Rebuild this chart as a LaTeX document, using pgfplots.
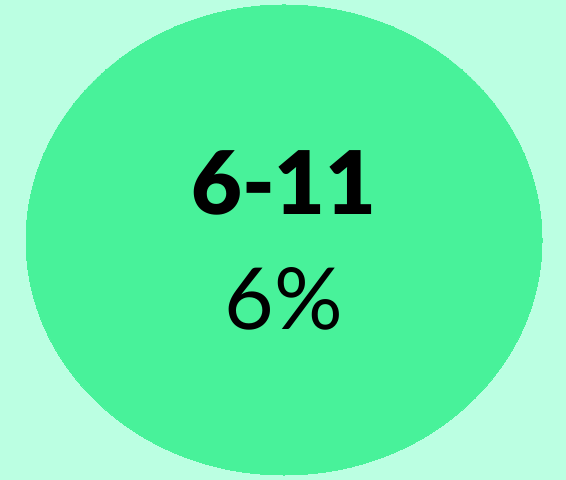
\documentclass[border=0pt]{standalone}
\usepackage{pgfplots}
\pgfplotsset{compat=1.18}
\usepackage{fontspec}
\setmainfont{Lato}
\newfontfamily\blackfont{Lato Black}
\definecolor{bg}{HTML}{BBFFE2}
\definecolor{bubble}{HTML}{48F29A}
\begin{document}
\begin{tikzpicture}[x=1bp,y=1bp]
\fill[bg] (0,0) rectangle (566,480);
\begin{axis}[
    at={(0,0)}, anchor=south west,
    width=566bp, height=480bp,
    scale only axis,
    xmin=0, xmax=566,
    ymin=0, ymax=480,
    hide axis,
    clip=false,
]
% one bubble: group 6-11, share 6%
\addplot[only marks, color=bubble, mark=*,
    mark options={fill=bubble, draw=bubble, line width=0pt, xscale=258/235},
    mark size=235bp]
    coordinates {(284,240)};
\end{axis}
\node[font=\blackfont\fontsize{88}{88}\selectfont, anchor=base] at (284,265) {6-11};
\node[font=\fontsize{86}{86}\selectfont, anchor=base] at (284,150) {6\%};
\end{tikzpicture}
\end{document}
